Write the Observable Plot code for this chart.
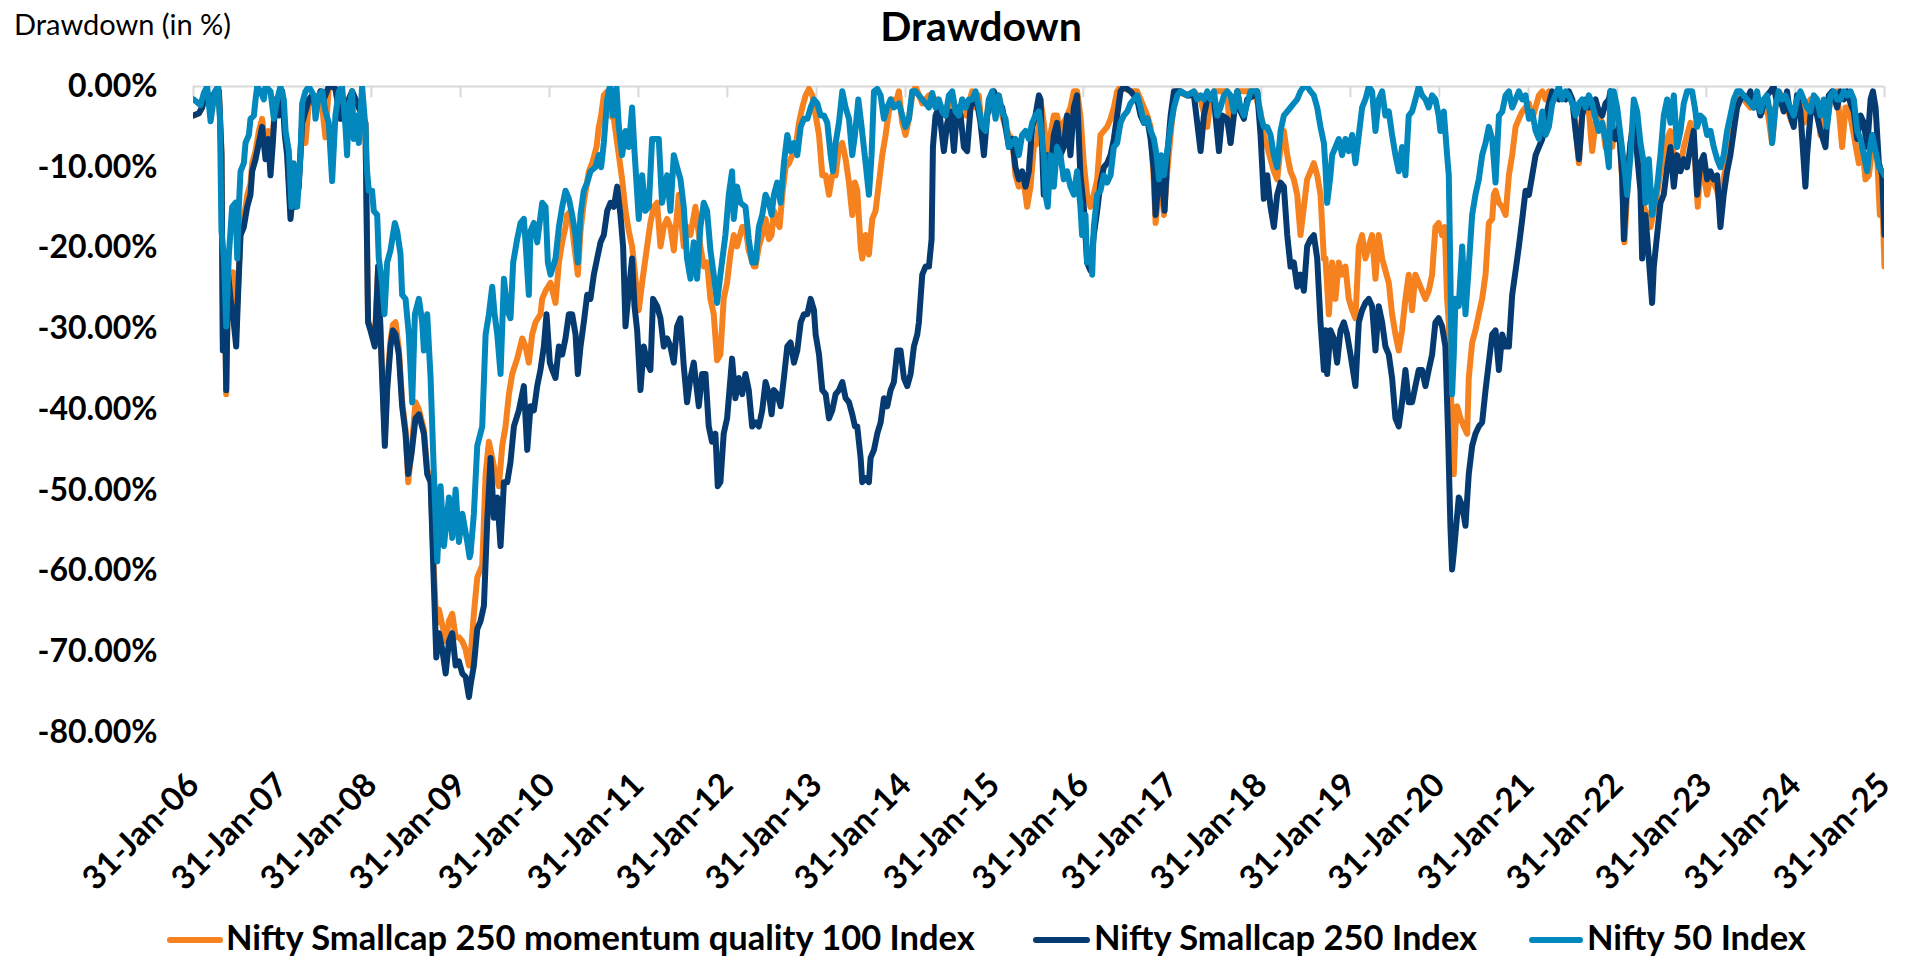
<!DOCTYPE html>
<html>
<head>
<meta charset="utf-8">
<script src="https://cdn.jsdelivr.net/npm/d3@7"></script>
<script src="https://cdn.jsdelivr.net/npm/@observablehq/plot@0.6"></script>
<style>
  html, body { margin: 0; padding: 0; background: #fff; }
  body { width: 1910px; height: 960px; position: relative; overflow: hidden; font-family: Lato, "Open Sans", sans-serif; color: #000; }
  #chart { position: absolute; left: 0; top: 0; }
  .title { position: absolute; top: 5px; left: 981px; transform: translateX(-50%); font-size: 41px; line-height: 41px; font-weight: 700; white-space: nowrap; }
  .ylab { position: absolute; top: 9px; left: 14px; font-size: 29px; line-height: 29px; font-weight: 400; white-space: nowrap; }
  .sw { position: absolute; top: 937px; height: 6px; border-radius: 3px; }
  .lt { position: absolute; top: 920px; font-size: 34.5px; line-height: 34.5px; font-weight: 700; white-space: nowrap; }
</style>
</head>
<body>
<div id="chart"></div>
<div class="title">Drawdown</div>
<div class="ylab">Drawdown (in %)</div>
<div id="legend"></div>
<script>
// ---------- data ----------
const tickLabels = ["31-Jan-06","31-Jan-07","31-Jan-08","31-Jan-09","31-Jan-10","31-Jan-11","31-Jan-12","31-Jan-13","31-Jan-14","31-Jan-15","31-Jan-16","31-Jan-17","31-Jan-18","31-Jan-19","31-Jan-20","31-Jan-21","31-Jan-22","31-Jan-23","31-Jan-24","31-Jan-25"];
const yTickValues = [0, -10, -20, -30, -40, -50, -60, -70, -80];
const seriesNames = ["Nifty Smallcap 250 momentum quality 100 Index", "Nifty Smallcap 250 Index", "Nifty 50 Index"];

// [decimal year, drawdown %]
const momentumQuality = [
[2006.082,-3.6],[2006.143,-3.3],[2006.180,-2.6],[2006.218,-0.6],[2006.274,-1.6],[2006.330,-0.6],[2006.368,-0.6],[2006.397,-8.0],[2006.412,-31.5],[2006.435,-25.0],[2006.450,-38.1],[2006.472,-23.0],[2006.499,-25.5],[2006.525,-23.0],[2006.562,-30.0],[2006.585,-24.5],[2006.611,-17.5],[2006.648,-16.5],[2006.686,-13.5],[2006.723,-12.0],[2006.742,-9.5],[2006.780,-8.0],[2006.817,-5.5],[2006.854,-4.0],[2006.892,-8.0],[2006.922,-5.5],[2006.948,-10.0],[2006.974,-6.0],[2007.004,-1.6],[2007.042,-3.0],[2007.079,-0.6],[2007.109,-5.5],[2007.135,-8.0],[2007.173,-15.5],[2007.199,-12.5],[2007.229,-14.0],[2007.266,-11.5],[2007.304,-4.5],[2007.341,-7.0],[2007.379,-2.0],[2007.416,-1.1],[2007.454,-2.6],[2007.510,-0.6],[2007.566,-6.3],[2007.603,0],[2007.641,0],[2007.678,-0.3],[2007.735,-4.0],[2007.772,-3.1],[2007.828,-1.6],[2007.866,-0.6],[2007.941,-2.6],[2008.015,-4.5],[2008.045,-29.0],[2008.072,-30.0],[2008.120,-31.5],[2008.158,-22.3],[2008.203,-35.5],[2008.233,-43.5],[2008.259,-37.0],[2008.296,-31.5],[2008.323,-29.5],[2008.353,-29.2],[2008.390,-32.5],[2008.427,-39.0],[2008.465,-42.5],[2008.495,-49.0],[2008.532,-45.0],[2008.577,-39.1],[2008.615,-40.0],[2008.671,-42.5],[2008.708,-47.5],[2008.746,-48.5],[2008.783,-60.0],[2008.810,-66.5],[2008.840,-64.8],[2008.877,-66.7],[2008.915,-68.7],[2008.952,-66.2],[2008.989,-65.3],[2009.027,-68.2],[2009.064,-68.2],[2009.102,-68.7],[2009.139,-69.7],[2009.177,-71.7],
[2009.195,-70.7],[2009.232,-65.3],[2009.270,-60.8],[2009.326,-59.3],[2009.364,-48.0],[2009.401,-44.0],[2009.438,-46.0],[2009.476,-48.0],[2009.513,-49.5],[2009.551,-44.5],[2009.588,-42.1],[2009.626,-38.1],[2009.663,-35.6],[2009.719,-33.7],[2009.776,-31.2],[2009.813,-32.2],[2009.850,-34.2],[2009.888,-30.7],[2009.925,-29.2],[2009.981,-28.2],[2010.000,-26.3],[2010.038,-25.3],[2010.094,-24.3],[2010.150,-26.8],[2010.188,-21.8],[2010.225,-19.3],[2010.262,-17.4],[2010.281,-15.9],[2010.319,-15.4],[2010.356,-19.3],[2010.401,-23.3],[2010.431,-17.9],[2010.468,-14.4],[2010.525,-10.5],[2010.562,-9.5],[2010.611,-7.5],[2010.637,-5.0],[2010.663,-3.6],[2010.693,-1.1],[2010.731,-0.6],[2010.768,-3.6],[2010.806,-4.0],[2010.862,-8.5],[2010.899,-11.5],[2010.937,-15.4],[2010.974,-17.9],[2011.011,-19.8],[2011.049,-23.8],[2011.086,-27.7],[2011.124,-24.3],[2011.161,-21.3],[2011.217,-16.9],[2011.255,-14.9],[2011.292,-14.4],[2011.330,-19.8],[2011.367,-17.4],[2011.405,-16.4],[2011.442,-17.4],[2011.480,-20.3],[2011.536,-13.4],[2011.592,-19.8],[2011.629,-17.4],[2011.667,-18.4],[2011.723,-14.9],[2011.779,-19.8],[2011.817,-22.3],[2011.854,-21.8],[2011.892,-26.3],[2011.929,-28.2],[2011.967,-33.9],[2012.004,-33.2],[2012.041,-26.3],[2012.079,-24.3],[2012.116,-20.8],[2012.154,-18.4],[2012.191,-19.8],[2012.248,-17.4],[2012.285,-17.4],[2012.322,-20.3],[2012.379,-22.3],
[2012.398,-22.3],[2012.435,-19.8],[2012.473,-18.4],[2012.510,-16.4],[2012.548,-18.9],[2012.578,-18.4],[2012.604,-15.4],[2012.641,-16.9],[2012.668,-17.4],[2012.698,-13.4],[2012.735,-10.0],[2012.773,-9.5],[2012.810,-8.5],[2012.847,-7.5],[2012.885,-4.5],[2012.922,-2.6],[2012.960,-1.1],[2012.997,-0.3],[2013.035,-1.1],[2013.072,-3.6],[2013.110,-6.0],[2013.147,-11.0],[2013.185,-11.0],[2013.222,-13.4],[2013.259,-11.0],[2013.297,-11.0],[2013.334,-7.5],[2013.372,-7.0],[2013.409,-9.0],[2013.447,-11.9],[2013.484,-15.9],[2013.514,-11.9],[2013.540,-12.9],[2013.578,-19.8],[2013.596,-21.3],[2013.634,-18.4],[2013.671,-20.8],[2013.709,-16.4],[2013.746,-15.4],[2013.784,-11.9],[2013.821,-8.5],[2013.859,-6.0],[2013.896,-3.1],[2013.934,-1.6],[2013.971,-2.1],[2014.008,-0.6],[2014.046,-4.5],[2014.083,-6.0],[2014.121,-4.0],[2014.158,-1.1],[2014.196,0],[2014.271,-2.1],[2014.346,-1.1],[2014.420,-1.6],[2014.495,-2.6],[2014.533,-3.6],[2014.570,-1.6],[2014.645,-3.1],[2014.683,-4.0],[2014.720,-1.6],[2014.758,-3.6],[2014.832,-0.6],[2014.870,-2.6],[2014.907,-1.1],[2014.945,-6.0],[2014.982,-5.0],[2015.020,-1.6],[2015.095,-3.6],[2015.132,-1.1],[2015.170,-3.6],[2015.207,-5.0],[2015.245,-6.0],[2015.282,-6.5],[2015.319,-11.0],[2015.357,-12.4],[2015.394,-11.0],[2015.432,-13.4],[2015.450,-14.9],[2015.488,-12.4],[2015.525,-7.5],[2015.563,-7.0],
[2015.600,-1.6],[2015.637,-4.5],[2015.675,-8.5],[2015.712,-6.0],[2015.750,-3.6],[2015.787,-3.6],[2015.825,-6.0],[2015.862,-4.5],[2015.900,-3.6],[2015.937,-2.6],[2015.975,-0.6],[2016.012,-0.6],[2016.049,-3.6],[2016.087,-9.5],[2016.124,-13.4],[2016.162,-14.9],[2016.199,-13.4],[2016.237,-11.5],[2016.274,-6.0],[2016.312,-5.5],[2016.349,-5.0],[2016.387,-4.0],[2016.424,-2.6],[2016.461,-0.6],[2016.499,0],[2016.611,-0.6],[2016.686,-0.6],[2016.724,-1.6],[2016.761,-2.6],[2016.799,-3.6],[2016.836,-5.0],[2016.873,-11.9],[2016.892,-16.9],[2016.930,-12.4],[2016.967,-13.4],[2016.986,-15.9],[2017.023,-10.5],[2017.061,-6.0],[2017.098,-1.6],[2017.136,-0.6],[2017.248,-1.1],[2017.323,-0.6],[2017.398,-1.6],[2017.473,-5.0],[2017.510,-1.6],[2017.548,-0.6],[2017.697,-0.6],[2017.735,-7.0],[2017.772,-2.1],[2017.810,-0.6],[2017.997,-0.6],[2018.072,-3.1],[2018.109,-6.0],[2018.147,-7.5],[2018.184,-9.0],[2018.222,-10.5],[2018.259,-11.5],[2018.297,-7.5],[2018.334,-5.5],[2018.372,-8.5],[2018.409,-10.5],[2018.446,-11.5],[2018.484,-13.4],[2018.521,-18.4],[2018.559,-14.9],[2018.596,-11.5],[2018.634,-10.5],[2018.671,-9.5],[2018.709,-11.0],[2018.746,-13.4],[2018.784,-21.3],
[2018.802,-21.3],[2018.840,-28.2],[2018.877,-21.8],[2018.914,-26.3],[2018.952,-21.8],[2018.989,-23.3],[2019.027,-22.3],[2019.064,-26.3],[2019.102,-27.7],[2019.139,-28.7],[2019.177,-19.8],[2019.214,-18.4],[2019.251,-21.3],[2019.289,-19.8],[2019.326,-18.4],[2019.364,-23.8],[2019.401,-18.4],[2019.439,-21.3],[2019.476,-22.8],[2019.514,-24.3],[2019.551,-28.2],[2019.589,-30.7],[2019.626,-32.7],[2019.663,-30.2],[2019.701,-26.3],[2019.738,-23.3],[2019.776,-27.7],[2019.813,-23.3],[2019.851,-24.3],[2019.888,-25.3],[2019.926,-26.3],[2019.963,-25.3],[2020.001,-23.3],[2020.038,-17.4],[2020.075,-16.9],[2020.113,-18.4],[2020.143,-17.4],[2020.169,-26.3],[2020.188,-29.2],[2020.206,-35.6],[2020.225,-43.0],[2020.244,-48.0],[2020.263,-42.1],[2020.281,-39.6],[2020.319,-41.1],[2020.356,-42.1],[2020.394,-43.0],[2020.412,-36.1],[2020.450,-31.7],[2020.487,-30.2],[2020.525,-28.2],[2020.562,-26.3],[2020.600,-23.3],[2020.637,-16.9],[2020.675,-16.4],[2020.693,-13.4],[2020.712,-12.9],[2020.750,-14.4],[2020.787,-14.9],[2020.825,-15.9],[2020.862,-11.0],[2020.899,-8.5],[2020.937,-5.0],[2020.974,-4.0],[2021.012,-3.1],[2021.049,-2.6],[2021.087,-2.1],[2021.124,-4.0],[2021.162,-2.6],[2021.199,-1.1],[2021.237,-0.6],[2021.274,-1.6],[2021.311,-0.6],[2021.349,-2.1],[2021.386,-1.1],[2021.424,-0.6],[2021.499,-1.1],[2021.574,-1.6],[2021.611,-5.0],[2021.649,-9.5],[2021.686,-3.1],[2021.724,-2.6],[2021.761,-3.1],[2021.798,-8.0],[2021.836,-4.5],[2021.873,-3.6],[2021.911,-4.5],[2021.948,-7.5],[2021.986,-8.5],
[2022.004,-0.6],[2022.023,-7.5],[2022.060,-3.6],[2022.098,-5.0],[2022.135,-11.5],[2022.161,-19.3],[2022.191,-13.4],[2022.229,-7.0],[2022.266,-3.6],[2022.304,-7.5],[2022.341,-12.4],[2022.379,-14.9],[2022.416,-15.9],[2022.454,-17.4],[2022.483,-15.9],[2022.528,-13.4],[2022.566,-10.5],[2022.603,-8.5],[2022.641,-6.5],[2022.678,-5.5],[2022.716,-8.5],[2022.753,-9.0],[2022.791,-10.0],[2022.828,-7.5],[2022.865,-6.0],[2022.903,-4.5],[2022.940,-6.5],[2022.985,-14.9],[2023.015,-10.0],[2023.053,-11.0],[2023.090,-13.4],[2023.128,-11.0],[2023.165,-11.9],[2023.203,-12.9],[2023.240,-14.9],[2023.277,-11.5],[2023.315,-8.5],[2023.352,-6.0],[2023.390,-3.6],[2023.427,-1.6],[2023.465,-1.1],[2023.502,-1.6],[2023.577,-2.6],[2023.652,-1.6],[2023.727,-3.1],[2023.764,-2.6],[2023.821,-7.0],[2023.858,-2.6],[2023.895,-0.6],[2023.952,-1.6],[2023.989,-2.6],[2024.045,-4.5],[2024.101,-3.1],[2024.139,-1.6],[2024.176,-4.5],[2024.214,-2.6],[2024.251,-1.6],[2024.326,-2.1],[2024.364,-6.0],[2024.401,-2.6],[2024.438,-4.5],[2024.476,-1.6],[2024.551,-0.6],[2024.607,-7.5],[2024.645,-2.6],[2024.682,-2.6],[2024.738,-6.0],[2024.794,-9.5],[2024.832,-7.5],[2024.869,-11.5],[2024.907,-11.0],[2024.963,-6.0],[2024.999,-8.5],[2025.030,-15.9],[2025.056,-13.4],[2025.082,-22.3]
];

const smallcap250 = [
[2006.082,-3.6],[2006.143,-3.3],[2006.180,-2.6],[2006.218,-0.6],[2006.274,-1.6],[2006.330,-0.6],[2006.368,-0.6],[2006.397,-8.5],[2006.412,-32.7],[2006.435,-25.8],[2006.450,-37.6],[2006.472,-23.3],[2006.499,-26.3],[2006.525,-28.2],[2006.562,-32.2],[2006.585,-25.3],[2006.611,-18.4],[2006.648,-17.4],[2006.686,-14.9],[2006.723,-13.4],[2006.742,-10.5],[2006.780,-9.0],[2006.817,-7.0],[2006.854,-5.0],[2006.892,-9.0],[2006.922,-6.5],[2006.948,-11.0],[2006.974,-7.0],[2007.004,-1.6],[2007.042,-3.6],[2007.079,-0.6],[2007.109,-6.0],[2007.135,-8.5],[2007.173,-16.4],[2007.199,-13.4],[2007.229,-14.9],[2007.266,-12.4],[2007.304,-4.5],[2007.341,-3.1],[2007.379,-1.6],[2007.416,-1.1],[2007.454,-2.6],[2007.510,-0.6],[2007.547,-1.6],[2007.603,0],[2007.641,0],[2007.678,-0.3],[2007.735,-4.0],[2007.772,-3.1],[2007.828,-1.6],[2007.866,-0.6],[2007.941,-2.6],[2008.015,-4.5],[2008.045,-29.2],[2008.072,-30.2],[2008.120,-32.2],[2008.158,-22.3],[2008.203,-36.1],[2008.233,-44.5],[2008.259,-37.6],[2008.296,-32.2],[2008.323,-30.2],[2008.353,-30.7],[2008.390,-33.2],[2008.427,-39.6],[2008.465,-43.0],[2008.495,-48.0],[2008.532,-45.5],[2008.577,-41.1],[2008.615,-40.6],[2008.671,-43.0],[2008.708,-48.0],[2008.746,-49.0],[2008.783,-61.8],[2008.810,-70.7],[2008.840,-67.7],[2008.877,-69.7],[2008.915,-72.7],[2008.952,-68.7],[2008.989,-67.7],[2009.027,-71.7],[2009.064,-71.2],[2009.102,-72.7],[2009.139,-73.1],[2009.177,-75.6],
[2009.195,-74.1],[2009.232,-71.7],[2009.270,-67.2],[2009.307,-66.2],[2009.345,-64.3],[2009.382,-53.9],[2009.420,-46.0],[2009.457,-53.4],[2009.495,-50.9],[2009.532,-56.9],[2009.570,-49.0],[2009.607,-49.0],[2009.644,-46.5],[2009.682,-42.1],[2009.738,-40.1],[2009.794,-37.1],[2009.832,-45.0],[2009.869,-39.6],[2009.907,-40.1],[2009.944,-37.1],[2009.981,-35.1],[2010.019,-32.2],[2010.049,-28.2],[2010.086,-34.2],[2010.113,-35.1],[2010.150,-36.1],[2010.188,-32.2],[2010.225,-33.2],[2010.262,-31.2],[2010.300,-28.2],[2010.337,-28.2],[2010.375,-30.7],[2010.401,-35.6],[2010.431,-32.2],[2010.468,-29.2],[2010.506,-25.8],[2010.543,-26.3],[2010.581,-23.3],[2010.618,-21.3],[2010.656,-19.3],[2010.693,-18.4],[2010.731,-15.4],[2010.768,-14.4],[2010.806,-14.9],[2010.843,-12.4],[2010.880,-15.9],[2010.910,-19.8],[2010.937,-29.7],[2010.974,-25.3],[2011.011,-21.3],[2011.038,-27.2],[2011.068,-30.2],[2011.105,-37.6],[2011.143,-32.2],[2011.180,-34.2],[2011.217,-35.1],[2011.247,-26.3],[2011.292,-27.2],[2011.330,-28.7],[2011.367,-32.2],[2011.405,-31.2],[2011.442,-32.2],[2011.480,-34.2],[2011.517,-29.7],[2011.555,-28.7],[2011.592,-34.6],[2011.629,-39.1],[2011.667,-36.1],[2011.704,-34.2],[2011.761,-39.6],[2011.798,-35.6],[2011.836,-35.6],[2011.873,-42.1],[2011.910,-44.0],[2011.948,-43.0],[2011.974,-49.5],[2012.004,-49.0],[2012.041,-43.0],[2012.079,-41.1],[2012.135,-33.7],[2012.172,-38.6],[2012.210,-36.1],[2012.248,-38.1],[2012.285,-35.6],[2012.322,-37.6],[2012.360,-42.1],
[2012.398,-41.6],[2012.435,-42.1],[2012.473,-40.1],[2012.510,-36.6],[2012.548,-38.1],[2012.578,-40.6],[2012.604,-37.6],[2012.641,-38.1],[2012.679,-39.6],[2012.716,-36.1],[2012.754,-32.2],[2012.791,-31.7],[2012.829,-34.2],[2012.866,-32.7],[2012.904,-29.2],[2012.941,-28.2],[2012.979,-28.2],[2013.016,-26.3],[2013.053,-27.7],[2013.072,-30.7],[2013.110,-33.2],[2013.147,-37.6],[2013.185,-38.1],[2013.222,-41.1],[2013.259,-40.1],[2013.297,-38.1],[2013.334,-37.6],[2013.372,-36.6],[2013.409,-38.6],[2013.447,-39.1],[2013.484,-40.6],[2013.514,-42.1],[2013.540,-42.1],[2013.578,-46.0],[2013.596,-49.0],[2013.634,-48.5],[2013.671,-49.0],[2013.690,-46.0],[2013.728,-45.0],[2013.765,-43.0],[2013.803,-41.6],[2013.840,-38.6],[2013.877,-39.6],[2013.915,-37.6],[2013.952,-36.6],[2013.990,-32.7],[2014.027,-32.7],[2014.065,-36.1],[2014.102,-37.1],[2014.140,-35.6],[2014.177,-32.2],[2014.215,-30.7],[2014.233,-29.2],[2014.271,-23.3],[2014.308,-22.3],[2014.346,-22.3],[2014.376,-18.9],[2014.391,-7.5],[2014.420,-3.6],[2014.458,-2.6],[2014.488,-5.5],[2014.514,-8.0],[2014.552,-4.5],[2014.589,-3.1],[2014.627,-8.0],[2014.664,-2.6],[2014.702,-3.6],[2014.739,-7.5],[2014.776,-8.0],[2014.814,-2.6],[2014.851,-1.6],[2014.889,-2.1],[2014.926,-4.5],[2014.964,-8.5],[2015.001,-3.6],[2015.039,-1.6],[2015.076,-0.6],[2015.132,-2.1],[2015.170,-2.6],[2015.207,-5.0],[2015.245,-7.5],[2015.282,-6.5],[2015.319,-10.0],[2015.357,-11.5],[2015.394,-10.5],[2015.432,-12.4],[2015.469,-10.5],[2015.507,-5.0],[2015.544,-3.6],[2015.582,-1.1],
[2015.600,-1.6],[2015.637,-13.4],[2015.675,-8.5],[2015.712,-11.0],[2015.750,-6.0],[2015.787,-4.5],[2015.825,-8.5],[2015.862,-7.5],[2015.900,-3.6],[2015.937,-8.5],[2015.975,-2.6],[2016.012,-1.1],[2016.049,-11.0],[2016.087,-14.9],[2016.124,-21.8],[2016.162,-22.8],[2016.199,-18.4],[2016.237,-15.4],[2016.274,-11.9],[2016.312,-10.0],[2016.349,-9.5],[2016.387,-8.5],[2016.424,-6.5],[2016.461,-3.6],[2016.499,-0.6],[2016.536,0],[2016.611,-0.6],[2016.686,-1.6],[2016.724,-3.6],[2016.761,-4.5],[2016.799,-4.0],[2016.836,-6.5],[2016.873,-10.5],[2016.892,-15.9],[2016.930,-11.0],[2016.967,-11.9],[2016.993,-15.4],[2017.023,-8.5],[2017.061,-3.6],[2017.098,-0.6],[2017.173,-0.6],[2017.248,-1.1],[2017.323,-1.1],[2017.360,-4.5],[2017.398,-8.0],[2017.435,-3.6],[2017.473,-1.6],[2017.510,-1.1],[2017.548,-1.6],[2017.604,-8.0],[2017.641,-3.6],[2017.697,-4.0],[2017.735,-7.0],[2017.772,-3.6],[2017.810,-0.6],[2017.847,-3.1],[2017.885,-4.0],[2017.922,-1.6],[2017.997,-1.1],[2018.034,-0.6],[2018.072,-6.0],[2018.109,-13.9],[2018.147,-11.0],[2018.184,-14.9],[2018.222,-17.4],[2018.259,-13.4],[2018.297,-11.9],[2018.334,-12.4],[2018.372,-18.4],[2018.409,-22.3],[2018.446,-21.8],[2018.484,-24.8],[2018.521,-23.3],[2018.559,-25.3],[2018.596,-19.8],[2018.634,-18.9],[2018.671,-18.4],[2018.709,-21.3],[2018.746,-29.2],[2018.784,-35.1],
[2018.802,-30.2],[2018.821,-35.6],[2018.858,-30.2],[2018.896,-31.2],[2018.933,-34.2],[2018.971,-30.2],[2019.008,-29.2],[2019.045,-30.7],[2019.083,-33.2],[2019.139,-37.1],[2019.177,-29.2],[2019.214,-27.7],[2019.251,-26.8],[2019.289,-26.3],[2019.326,-27.2],[2019.364,-32.7],[2019.401,-27.2],[2019.439,-29.2],[2019.476,-32.2],[2019.514,-33.2],[2019.551,-36.1],[2019.589,-41.1],[2019.626,-42.1],[2019.663,-39.1],[2019.701,-35.1],[2019.738,-39.1],[2019.776,-39.1],[2019.813,-37.1],[2019.851,-35.1],[2019.888,-35.1],[2019.926,-37.1],[2019.963,-35.1],[2020.001,-33.2],[2020.038,-29.2],[2020.075,-28.7],[2020.113,-29.7],[2020.150,-32.2],[2020.180,-43.0],[2020.206,-54.4],[2020.225,-59.8],[2020.244,-57.8],[2020.263,-55.4],[2020.300,-50.9],[2020.338,-51.9],[2020.375,-54.4],[2020.412,-48.0],[2020.450,-44.5],[2020.487,-43.0],[2020.525,-42.1],[2020.562,-41.6],[2020.600,-37.6],[2020.637,-34.2],[2020.675,-30.7],[2020.712,-30.2],[2020.750,-35.1],[2020.787,-30.7],[2020.825,-32.2],[2020.862,-32.2],[2020.899,-25.8],[2020.937,-22.8],[2020.974,-19.8],[2021.012,-16.4],[2021.049,-12.9],[2021.087,-13.4],[2021.124,-11.0],[2021.162,-8.5],[2021.199,-7.5],[2021.237,-6.5],[2021.274,-4.0],[2021.311,-2.1],[2021.349,-0.6],[2021.386,-1.1],[2021.424,-1.6],[2021.461,-1.1],[2021.499,-1.6],[2021.536,-0.6],[2021.574,-1.6],[2021.611,-5.5],[2021.649,-9.0],[2021.686,-3.6],[2021.724,-1.6],[2021.761,-2.6],[2021.798,-2.1],[2021.836,-1.6],[2021.873,-3.1],[2021.911,-3.6],[2021.948,-2.1],[2021.986,-1.6],
[2022.004,-0.6],[2022.023,-6.0],[2022.060,-6.5],[2022.098,-5.0],[2022.135,-11.0],[2022.154,-18.9],[2022.191,-11.5],[2022.229,-7.0],[2022.266,-4.5],[2022.304,-8.5],[2022.341,-12.9],[2022.360,-21.3],[2022.397,-15.9],[2022.435,-21.3],[2022.472,-26.8],[2022.491,-22.3],[2022.528,-18.4],[2022.566,-14.4],[2022.603,-13.4],[2022.641,-10.0],[2022.678,-7.5],[2022.716,-12.4],[2022.753,-8.5],[2022.791,-10.5],[2022.828,-9.0],[2022.865,-10.0],[2022.903,-7.5],[2022.940,-5.5],[2022.978,-13.4],[2023.015,-9.5],[2023.053,-8.5],[2023.090,-11.5],[2023.128,-10.5],[2023.165,-11.5],[2023.203,-11.0],[2023.240,-17.4],[2023.277,-13.4],[2023.315,-10.5],[2023.352,-8.5],[2023.390,-5.5],[2023.427,-2.6],[2023.465,-1.6],[2023.502,-1.1],[2023.540,-1.6],[2023.577,-0.6],[2023.614,-2.6],[2023.652,-1.6],[2023.689,-3.6],[2023.727,-2.1],[2023.764,-1.1],[2023.802,-0.6],[2023.839,0],[2023.877,-2.1],[2023.914,-1.6],[2023.952,-3.1],[2023.989,-0.6],[2024.026,-3.6],[2024.064,-5.0],[2024.101,-1.1],[2024.139,-3.1],[2024.195,-12.4],[2024.214,-8.5],[2024.251,-3.6],[2024.289,-1.6],[2024.326,-3.6],[2024.364,-5.5],[2024.420,-7.5],[2024.457,-1.1],[2024.495,-0.6],[2024.551,-2.6],[2024.588,-0.6],[2024.626,-1.6],[2024.663,-0.6],[2024.701,-2.1],[2024.738,-3.1],[2024.776,-6.5],[2024.813,-3.6],[2024.850,-4.5],[2024.888,-7.5],[2024.926,-1.6],[2024.952,-0.6],[2024.982,-2.6],[2025.019,-9.5],[2025.056,-11.0],[2025.082,-18.4]
];

const nifty50 = [
[2006.082,-1.6],[2006.162,-2.3],[2006.199,-0.8],[2006.236,0],[2006.274,-4.3],[2006.323,-0.6],[2006.360,0],[2006.379,-3.6],[2006.397,-17.9],[2006.424,-21.3],[2006.450,-29.7],[2006.480,-20.8],[2006.517,-14.9],[2006.555,-14.4],[2006.574,-21.3],[2006.592,-14.9],[2006.611,-10.5],[2006.648,-9.5],[2006.667,-7.0],[2006.705,-6.0],[2006.723,-4.0],[2006.761,-3.6],[2006.780,-1.6],[2006.798,0],[2006.836,-0.6],[2006.873,-1.6],[2006.892,0],[2006.948,-0.6],[2006.986,-4.0],[2007.023,-1.6],[2007.060,0],[2007.098,-1.6],[2007.117,-5.5],[2007.154,-8.0],[2007.184,-14.9],[2007.210,-9.5],[2007.248,-14.9],[2007.285,-8.5],[2007.304,-2.1],[2007.341,-0.6],[2007.379,0],[2007.435,-1.1],[2007.454,-4.0],[2007.491,-1.1],[2007.529,-0.6],[2007.566,-3.1],[2007.603,-4.5],[2007.641,-11.7],[2007.678,-3.6],[2007.716,-0.6],[2007.753,0],[2007.791,-5.0],[2007.809,-8.5],[2007.828,-2.6],[2007.866,-0.6],[2007.884,-6.5],[2007.922,-3.6],[2007.941,-7.0],[2007.978,0],[2008.015,-5.0],[2008.034,-10.5],[2008.053,-12.9],[2008.090,-12.9],[2008.109,-15.4],[2008.147,-15.9],[2008.165,-21.3],[2008.203,-24.3],[2008.229,-28.2],[2008.259,-21.8],[2008.296,-20.3],[2008.345,-16.9],[2008.371,-17.9],[2008.409,-20.8],[2008.427,-25.8],[2008.465,-26.3],[2008.502,-30.7],[2008.540,-39.1],[2008.570,-28.2],[2008.615,-26.3],[2008.652,-29.2],[2008.671,-32.7],[2008.708,-28.2],[2008.746,-36.1],[2008.783,-48.0],[2008.821,-58.8],[2008.858,-49.5],[2008.896,-56.9],[2008.952,-50.9],[2008.989,-55.9],[2009.027,-49.9],[2009.064,-56.4],[2009.102,-52.9],[2009.158,-56.4],[2009.184,-58.3],
[2009.195,-57.8],[2009.232,-52.9],[2009.270,-44.5],[2009.326,-42.1],[2009.364,-30.7],[2009.401,-28.2],[2009.438,-24.8],[2009.465,-28.2],[2009.495,-30.7],[2009.532,-35.6],[2009.570,-23.8],[2009.607,-27.7],[2009.644,-28.7],[2009.674,-21.8],[2009.719,-18.9],[2009.757,-16.9],[2009.794,-16.4],[2009.813,-19.3],[2009.850,-25.8],[2009.869,-17.9],[2009.907,-16.9],[2009.944,-19.3],[2010.000,-14.4],[2010.038,-14.9],[2010.064,-21.8],[2010.094,-23.3],[2010.150,-21.3],[2010.188,-17.4],[2010.225,-14.9],[2010.262,-12.9],[2010.300,-13.9],[2010.337,-15.9],[2010.375,-18.4],[2010.401,-21.8],[2010.431,-15.9],[2010.468,-12.9],[2010.506,-11.9],[2010.543,-10.5],[2010.599,-10.0],[2010.637,-8.5],[2010.663,-10.0],[2010.693,-7.0],[2010.731,-1.6],[2010.761,0],[2010.798,-3.6],[2010.835,0],[2010.862,-5.0],[2010.899,-8.5],[2010.937,-5.5],[2010.974,-7.5],[2011.011,-2.6],[2011.038,-8.0],[2011.086,-16.4],[2011.124,-11.0],[2011.161,-15.4],[2011.199,-14.9],[2011.236,-6.5],[2011.274,-6.5],[2011.311,-6.5],[2011.348,-14.4],[2011.405,-11.0],[2011.442,-15.4],[2011.480,-8.5],[2011.517,-10.0],[2011.555,-11.5],[2011.592,-14.9],[2011.629,-21.3],[2011.667,-23.8],[2011.704,-19.3],[2011.742,-23.8],[2011.779,-17.4],[2011.817,-14.4],[2011.854,-15.4],[2011.892,-20.3],[2011.929,-23.3],[2011.967,-26.8],[2012.004,-23.3],[2012.060,-18.4],[2012.098,-13.4],[2012.135,-10.5],[2012.154,-16.4],[2012.191,-12.4],[2012.229,-14.4],[2012.285,-14.9],[2012.322,-18.9],[2012.360,-21.8],
[2012.398,-21.8],[2012.435,-17.4],[2012.473,-15.9],[2012.510,-13.4],[2012.548,-14.4],[2012.578,-15.9],[2012.604,-13.4],[2012.641,-11.9],[2012.679,-14.4],[2012.716,-9.5],[2012.754,-6.0],[2012.791,-8.0],[2012.829,-7.0],[2012.866,-8.5],[2012.904,-5.0],[2012.941,-4.0],[2012.979,-4.0],[2013.016,-2.6],[2013.053,-1.6],[2013.091,-2.1],[2013.128,-3.6],[2013.166,-3.6],[2013.203,-4.5],[2013.241,-8.5],[2013.267,-10.5],[2013.297,-7.0],[2013.334,-4.5],[2013.372,-0.6],[2013.409,-2.6],[2013.447,-4.0],[2013.484,-8.5],[2013.514,-6.0],[2013.552,-1.6],[2013.589,-5.0],[2013.634,-9.5],[2013.671,-13.4],[2013.701,-8.5],[2013.728,-0.6],[2013.765,-0.3],[2013.803,-1.1],[2013.840,-4.0],[2013.877,-2.6],[2013.915,-1.6],[2013.952,-2.6],[2014.008,-2.1],[2014.046,-3.6],[2014.083,-5.0],[2014.121,-4.0],[2014.158,-0.6],[2014.196,-0.6],[2014.233,-1.1],[2014.271,-1.6],[2014.308,-2.1],[2014.346,-2.6],[2014.383,-0.8],[2014.420,-2.6],[2014.458,-1.6],[2014.495,-3.1],[2014.533,-3.6],[2014.570,-1.1],[2014.608,-0.6],[2014.645,-3.1],[2014.683,-3.6],[2014.720,-1.6],[2014.758,-2.6],[2014.795,-1.6],[2014.832,-1.6],[2014.870,-0.6],[2014.907,-2.6],[2014.945,-5.0],[2014.982,-5.5],[2015.020,-1.6],[2015.057,-0.6],[2015.095,-4.0],[2015.132,-1.1],[2015.170,-3.1],[2015.207,-4.0],[2015.245,-7.5],[2015.282,-7.0],[2015.319,-6.5],[2015.357,-8.5],[2015.394,-6.0],[2015.432,-5.5],[2015.469,-6.5],[2015.507,-4.5],[2015.544,-3.6],[2015.582,-3.1],
[2015.600,-4.5],[2015.637,-8.5],[2015.656,-13.4],[2015.682,-14.9],[2015.712,-8.5],[2015.750,-12.4],[2015.787,-7.5],[2015.825,-8.5],[2015.862,-11.5],[2015.900,-10.5],[2015.937,-12.4],[2015.975,-13.4],[2016.012,-10.5],[2016.049,-14.9],[2016.068,-18.4],[2016.106,-15.9],[2016.124,-21.8],[2016.162,-20.3],[2016.181,-23.3],[2016.199,-17.4],[2016.237,-13.4],[2016.274,-12.9],[2016.312,-11.0],[2016.349,-11.9],[2016.387,-11.0],[2016.424,-7.5],[2016.461,-7.0],[2016.499,-4.5],[2016.536,-3.6],[2016.574,-3.1],[2016.611,-2.1],[2016.649,-1.6],[2016.686,-1.1],[2016.724,-2.6],[2016.761,-4.5],[2016.799,-4.0],[2016.836,-5.5],[2016.873,-6.5],[2016.903,-8.5],[2016.930,-11.5],[2016.956,-8.5],[2016.986,-11.0],[2017.023,-8.0],[2017.061,-5.0],[2017.098,-2.6],[2017.136,-1.1],[2017.173,-0.6],[2017.248,-1.1],[2017.323,-0.6],[2017.360,-1.6],[2017.398,-1.1],[2017.435,-1.6],[2017.473,-0.6],[2017.510,-1.6],[2017.548,-0.6],[2017.585,-3.6],[2017.622,-2.6],[2017.660,-1.1],[2017.697,-0.6],[2017.735,-1.1],[2017.772,-3.1],[2017.810,-0.6],[2017.847,-2.6],[2017.885,-3.6],[2017.922,-2.1],[2017.960,-0.6],[2018.034,-0.6],[2018.072,-3.6],[2018.109,-5.0],[2018.147,-5.0],[2018.184,-6.0],[2018.222,-8.5],[2018.259,-10.0],[2018.297,-5.5],[2018.334,-3.6],[2018.372,-3.1],[2018.409,-2.6],[2018.446,-2.1],[2018.484,-1.6],[2018.521,-0.6],[2018.559,0],[2018.596,0],[2018.634,-0.6],[2018.671,-1.1],[2018.709,-2.6],[2018.746,-5.0],[2018.784,-7.0],
[2018.802,-10.0],[2018.821,-14.4],[2018.858,-11.0],[2018.877,-8.5],[2018.914,-7.5],[2018.952,-6.5],[2018.989,-8.5],[2019.027,-6.5],[2019.064,-8.0],[2019.102,-6.0],[2019.139,-9.5],[2019.177,-6.0],[2019.214,-2.6],[2019.251,-1.6],[2019.289,0],[2019.326,-0.6],[2019.364,-5.5],[2019.401,-1.6],[2019.439,-0.6],[2019.476,-3.6],[2019.514,-3.1],[2019.551,-6.0],[2019.589,-8.5],[2019.626,-10.5],[2019.663,-7.5],[2019.701,-11.0],[2019.738,-3.6],[2019.776,-3.1],[2019.813,-1.6],[2019.851,0],[2019.888,-1.1],[2019.926,-1.6],[2019.963,-2.6],[2020.001,-1.1],[2020.038,-1.6],[2020.075,-3.6],[2020.094,-5.5],[2020.132,-3.1],[2020.169,-8.5],[2020.188,-11.0],[2020.206,-23.3],[2020.225,-38.1],[2020.244,-33.2],[2020.263,-26.3],[2020.300,-27.2],[2020.338,-19.8],[2020.375,-28.2],[2020.412,-22.3],[2020.450,-15.9],[2020.487,-13.4],[2020.525,-11.5],[2020.562,-8.5],[2020.600,-7.0],[2020.637,-5.0],[2020.675,-6.5],[2020.712,-11.9],[2020.750,-3.6],[2020.787,-3.1],[2020.825,-1.1],[2020.862,-0.6],[2020.899,-2.6],[2020.937,-1.6],[2020.974,-0.6],[2021.012,-1.6],[2021.049,-1.1],[2021.087,-4.0],[2021.124,-3.1],[2021.162,-5.5],[2021.199,-6.5],[2021.237,-3.1],[2021.274,-6.0],[2021.311,-5.0],[2021.349,-2.1],[2021.386,-1.1],[2021.424,0],[2021.461,-1.6],[2021.499,-0.6],[2021.536,-1.1],[2021.574,-2.1],[2021.611,-3.6],[2021.649,-2.1],[2021.686,-1.6],[2021.724,-2.6],[2021.761,-1.1],[2021.798,-2.1],[2021.836,-4.0],[2021.873,-5.5],[2021.911,-4.5],[2021.948,-6.5],[2021.986,-10.0],
[2022.004,-0.6],[2022.023,-5.0],[2022.041,-0.6],[2022.079,-2.6],[2022.116,-6.0],[2022.154,-9.5],[2022.191,-13.4],[2022.229,-8.5],[2022.266,-1.6],[2022.304,-3.1],[2022.341,-7.0],[2022.379,-9.5],[2022.397,-14.4],[2022.435,-9.0],[2022.472,-15.9],[2022.528,-12.4],[2022.566,-8.5],[2022.603,-3.6],[2022.641,-1.6],[2022.678,-4.5],[2022.716,-1.1],[2022.753,-7.5],[2022.791,-5.5],[2022.828,-2.1],[2022.865,-0.6],[2022.922,-0.6],[2022.959,-3.1],[2022.978,-5.0],[2023.015,-3.6],[2023.053,-4.0],[2023.090,-6.0],[2023.128,-5.5],[2023.165,-7.5],[2023.203,-9.0],[2023.240,-10.0],[2023.277,-8.5],[2023.315,-5.5],[2023.352,-3.6],[2023.390,-1.6],[2023.427,-0.6],[2023.465,-0.6],[2023.502,-1.1],[2023.540,-1.6],[2023.577,-2.1],[2023.614,-2.6],[2023.652,-0.6],[2023.689,-3.1],[2023.727,-1.6],[2023.764,-1.1],[2023.802,-3.6],[2023.821,-7.0],[2023.858,-2.6],[2023.895,-0.6],[2023.933,-1.6],[2023.970,-1.1],[2024.026,-2.6],[2024.064,-3.6],[2024.101,-1.6],[2024.139,-0.6],[2024.176,-1.6],[2024.214,-2.6],[2024.251,-3.1],[2024.289,-1.1],[2024.326,-1.6],[2024.364,-3.6],[2024.401,-1.6],[2024.438,-5.0],[2024.476,-1.1],[2024.513,-0.6],[2024.551,-1.6],[2024.588,-1.6],[2024.626,-0.6],[2024.663,-1.1],[2024.701,-0.6],[2024.738,-1.6],[2024.776,-5.5],[2024.813,-6.5],[2024.850,-8.5],[2024.888,-10.5],[2024.907,-8.5],[2024.944,-6.0],[2024.982,-8.0],[2025.019,-10.0],[2025.056,-10.5],[2025.082,-11.0]
];

// ---------- build ----------
const colors = ["#F5821F", "#063B72", "#0288BC"];
const parseTick = d3.utcParse("%d-%b-%y");
const tickDates = tickLabels.map(parseTick);
const labelByTime = new Map(tickDates.map((d, i) => [+d, tickLabels[i]]));
function yearToDate(y) {
  const Y = Math.floor(y);
  const a = Date.UTC(Y, 0, 1), b = Date.UTC(Y + 1, 0, 1);
  return new Date(a + (y - Y) * (b - a));
}
const toRows = arr => arr.map(([t, v]) => ({date: yearToDate(t), value: v}));
const seriesData = [momentumQuality, smallcap250, nifty50].map(toRows);

const lineOpts = (i) => ({x: "date", y: "value", stroke: colors[i], strokeWidth: 6, strokeLinejoin: "round", strokeLinecap: "round", clip: true});

const chart = Plot.plot({
  width: 1910,
  height: 960,
  marginLeft: 193,
  marginRight: 26,
  marginTop: 86,
  marginBottom: 228,
  style: {fontFamily: "Lato, 'Open Sans', sans-serif", background: "transparent", color: "#000", overflow: "visible"},
  x: {type: "utc", domain: [tickDates[0], tickDates[tickDates.length - 1]]},
  y: {domain: [-80, 0]},
  marks: [
    Plot.ruleY([0], {stroke: "#d9d9d9", strokeWidth: 2}),
    Plot.ruleX(tickDates, {x: d => d, y1: 0, y2: -1.4, stroke: "#d9d9d9", strokeWidth: 2}),
    Plot.axisY({ticks: yTickValues, tickFormat: d => d.toFixed(2) + "%", tickSize: 0, tickPadding: 36, fontSize: 32, fontWeight: "bold", label: null}),
    Plot.axisX({ticks: tickDates, tickFormat: d => labelByTime.get(+d), tickSize: 0, tickPadding: 47, tickRotate: -45, fontSize: 33, fontWeight: "bold", label: null}),
    Plot.line(seriesData[0], lineOpts(0)),
    Plot.line(seriesData[1], lineOpts(1)),
    Plot.line(seriesData[2], lineOpts(2))
  ]
});
document.getElementById("chart").appendChild(chart);

// legend
const legendPos = [{sw: 167, w: 56, tx: 226}, {sw: 1033, w: 57, tx: 1094}, {sw: 1529, w: 54, tx: 1587}];
const legend = document.getElementById("legend");
seriesNames.forEach((name, i) => {
  const s = document.createElement("div");
  s.className = "sw";
  s.style.left = legendPos[i].sw + "px";
  s.style.width = legendPos[i].w + "px";
  s.style.background = colors[i];
  legend.appendChild(s);
  const t = document.createElement("div");
  t.className = "lt";
  t.style.left = legendPos[i].tx + "px";
  t.textContent = name;
  legend.appendChild(t);
});
</script>
</body>
</html>
